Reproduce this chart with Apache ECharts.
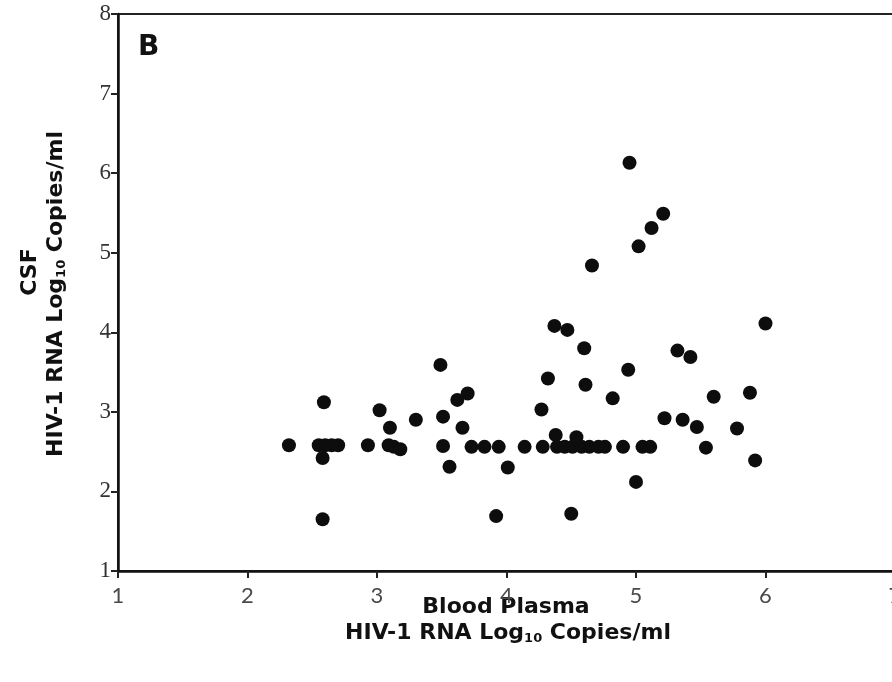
<!DOCTYPE html>
<html>
<head>
<meta charset="utf-8">
<script src="https://cdn.jsdelivr.net/npm/echarts@6/dist/echarts.min.js"></script>
<style>html,body{margin:0;padding:0;background:#fff}#c{width:892px;height:682px}</style>
</head>
<body>
<div id="c"></div>
<script>
// Blood plasma HIV-1 RNA (log10 copies/ml)
var plasma = [2.32,2.59,2.55,2.60,2.65,2.70,2.58,2.58,2.93,3.02,3.10,3.09,3.13,3.18,3.30,3.49,3.51,3.62,3.70,3.66,3.51,3.56,3.73,3.83,3.94,3.92,4.01,4.14,4.27,4.28,4.32,4.37,4.47,4.39,4.38,4.45,4.51,4.54,4.58,4.60,4.61,4.64,4.66,4.71,4.76,4.82,4.50,4.90,4.94,4.95,5.00,5.02,5.05,5.11,5.12,5.21,5.22,5.32,5.36,5.42,5.47,5.54,5.60,5.78,5.88,5.92,6.00];
// CSF HIV-1 RNA (log10 copies/ml)
var csf = [2.58,3.12,2.58,2.58,2.58,2.58,2.42,1.65,2.58,3.02,2.80,2.58,2.56,2.53,2.90,3.59,2.94,3.15,3.23,2.80,2.57,2.31,2.56,2.56,2.56,1.69,2.30,2.56,3.03,2.56,3.42,4.08,4.03,2.56,2.71,2.56,2.56,2.68,2.56,3.80,3.34,2.56,4.84,2.56,2.56,3.17,1.72,2.56,3.53,6.13,2.12,5.08,2.56,2.56,5.31,5.49,2.92,3.77,2.90,3.69,2.81,2.55,3.19,2.79,3.24,2.39,4.11];
var xTicks = [1,2,3,4,5,6,7];
var yTicks = [1,2,3,4,5,6,7,8];
var panelLabel = 'B';

var points = plasma.map(function(v,i){return [v, csf[i]];});

var titleFont = 'bold 22px "DejaVu Sans"';
var subFont = 'bold 13px "DejaVu Sans"';

var chart = echarts.init(document.getElementById('c'));
chart.setOption({
  animation:false,
  backgroundColor:'#fff',
  grid:{left:118, top:14, width:777, height:557, show:true, borderColor:'#222', borderWidth:2, outerBoundsMode:'none', containLabel:false},
  xAxis:{
    type:'value', min:xTicks[0], max:xTicks[xTicks.length-1], interval:1,
    axisLine:{lineStyle:{color:'#111', width:2.5}},
    axisTick:{show:true, length:7, inside:false, lineStyle:{color:'#222', width:2}},
    splitLine:{show:false},
    axisLabel:{margin:14, fontFamily:'Lato', fontSize:22, color:'#4a4a4a'}
  },
  yAxis:{
    type:'value', min:yTicks[0], max:yTicks[yTicks.length-1], interval:1,
    axisLine:{lineStyle:{color:'#111', width:2.5}},
    axisTick:{show:true, length:7, inside:false, lineStyle:{color:'#222', width:2}},
    splitLine:{show:false},
    axisLabel:{margin:7, fontFamily:'Liberation Serif', fontSize:23, color:'#333'}
  },
  series:[{
    type:'scatter', data:points, symbol:'circle', symbolSize:14,
    itemStyle:{color:'#0d0d0d', opacity:1}
  }],
  graphic:[
    {type:'text', left:138, top:34, style:{text:panelLabel, font:'bold 28px "DejaVu Sans"', fill:'#111'}},
    {type:'text', x:506, y:607, style:{text:'Blood Plasma', font:titleFont, fill:'#111', align:'center', verticalAlign:'middle'}},
    {type:'text', x:508, y:633, style:{
      text:'HIV-1 RNA Log{sub|10} Copies/ml', font:titleFont, fill:'#111', align:'center', verticalAlign:'middle',
      rich:{sub:{font:subFont, fill:'#111', lineHeight:12, verticalAlign:'bottom'}}, lineHeight:24}},
    {type:'text', x:30, y:272, rotation:Math.PI/2, style:{text:'CSF', font:titleFont, fill:'#111', align:'center', verticalAlign:'middle'}},
    {type:'text', x:56, y:294, rotation:Math.PI/2, style:{
      text:'HIV-1 RNA Log{sub|10} Copies/ml', font:titleFont, fill:'#111', align:'center', verticalAlign:'middle',
      rich:{sub:{font:subFont, fill:'#111', lineHeight:12, verticalAlign:'bottom'}}, lineHeight:24}}
  ]
});
</script>
</body>
</html>
